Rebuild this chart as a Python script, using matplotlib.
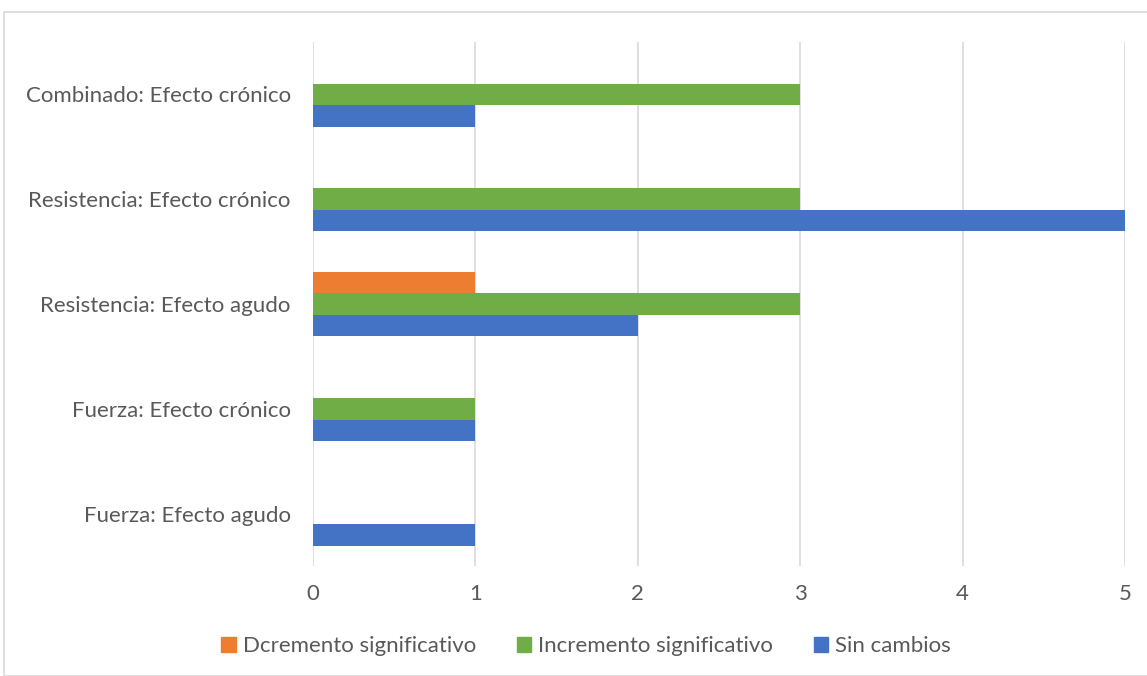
import matplotlib.pyplot as plt
from matplotlib.patches import Rectangle, Patch
import numpy as np

categories = ["Fuerza: Efecto agudo", "Fuerza: Efecto crónico", "Resistencia: Efecto agudo",
              "Resistencia: Efecto crónico", "Combinado: Efecto crónico"]
decremento = [0, 0, 1, 0, 0]
incremento = [0, 1, 3, 3, 3]
sin_cambios = [1, 1, 2, 5, 1]

series_names = ["Dcremento significativo", "Incremento significativo", "Sin cambios"]
colors = ["#ED7D31", "#70AD47", "#4472C4"]

plt.rcParams['font.family'] = ['Lato', 'DejaVu Sans']

fig = plt.figure(figsize=(11.47, 6.76), dpi=100)
ax = fig.add_axes([313 / 1147, 1 - 566 / 676, (1125 - 313) / 1147, (566 - 42) / 676])

y = np.arange(len(categories))
h = 0.205
for i, (vals, name, c) in enumerate(zip([decremento, incremento, sin_cambios], series_names, colors)):
    ax.barh(y + (1 - i) * h, vals, height=h, color=c, label=name, zorder=3)

ax.set_xlim(0, 5)
ax.set_ylim(-0.5, len(categories) - 0.5)
ax.set_yticks(y)
ax.set_yticklabels(categories)
ax.set_xticks(range(6))
ax.grid(axis="x", color="#d9d9d9", linewidth=1.2, zorder=0)
for s in ax.spines.values():
    s.set_visible(False)
ax.tick_params(axis="both", length=0, labelsize=16, colors="#595959")
ax.tick_params(axis="y", pad=16)
ax.tick_params(axis="x", pad=13)

handles = [Patch(color=c, label=n) for c, n in zip(colors, series_names)]
fig.legend(handles=handles, loc="center", bbox_to_anchor=(0.511, 1 - 646 / 676), ncol=3,
           frameon=False, fontsize=16, handlelength=0.65, handleheight=0.65,
           handletextpad=0.3, columnspacing=1.85, labelcolor="#595959")

fig.patches.append(Rectangle((4 / 1147, 0), 1.0, 1 - 12 / 676, transform=fig.transFigure,
                             fill=False, edgecolor="#d9d9d9", linewidth=1.2))

fig.savefig("out.png", dpi=100)
